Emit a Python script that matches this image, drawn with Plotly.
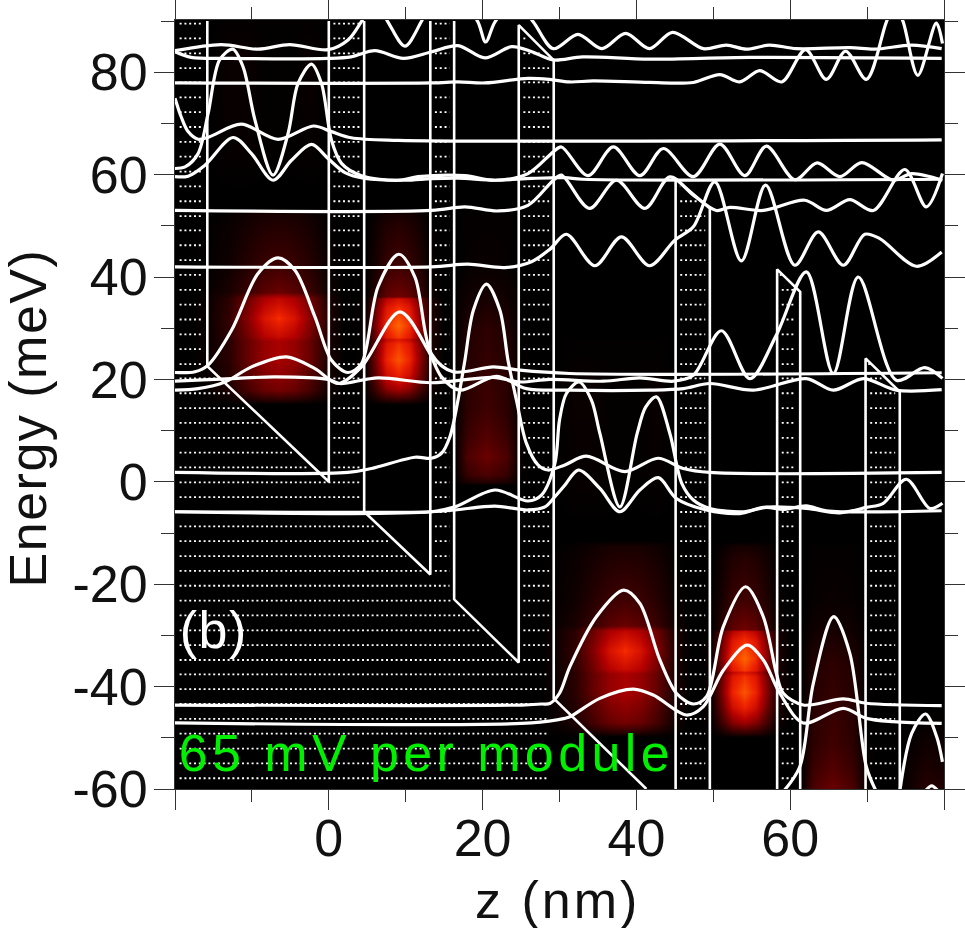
import plotly.graph_objects as go

# subbands: z in nm, energy in meV
wave_1_z = [-20,-14,-9.2,-5.1,-0.1,2.5,4.2,6,7.7,9.9,12,13.4,15.5,17.5,19.4,20.4,21.6,24.2,26.6,29.2,32.4,35.5,38.6,41.7,44.7,48.7,51.7,54.3,57.3,60.8,67.8,71,75.8,79.7]
wave_1_e = [84.2,85.4,84.5,85.4,84.4,86.3,89.8,94,89.8,85.1,89.8,94,96,94,89.8,85.9,89.8,94,89.8,84.6,87.4,84.6,87.6,84.6,87.8,84.6,85.3,84.5,85.3,84.6,84.8,84.5,85.3,84.6]
wave_2_z = [-20,-17.9,-12.7,-0.1,2.9,6,9.7,13.4,16.8,20.3,23.8,26.4,29.2,33,41.7,54.8,79.7]
wave_2_e = [84,82.9,82.7,82.7,83,84.2,82.7,84,85.2,82.8,85,84,82.4,83,82.55,82.9,82.7]
wave_3_z = [-20,13.4,16.8,20.3,25.9,28.7,31.3,34.4,41.7,47.4,50.85,53.45,56.05,58.9,62,64.7,67.2,69.9,72.5,73.6,74.7,76.6,79,79.8]
wave_3_e = [77.9,77.9,78.1,77.9,78.8,78.6,78.1,78.3,78,78,79.55,78.1,80.3,78.1,84.4,78.6,84.1,78.6,89.8,93.4,89.8,79.4,89.6,85.6]
wave_4_z = [-20,-19.2,-18.3,-17,-15.5,-11.4,-6.6,-2,0.35,2.9,9,79.7]
wave_4_e = [74.9,71.3,68.4,66.9,67.4,69.85,66.9,69.5,68.4,67.2,66.7,66.8]
wave_5_z = [-20,-18.7,-17,-15.7,-14.2,-12.5,-11.15,-9.6,-7.25,-5.3,-4,-2.25,-0.95,0.35,1.65,4.25,9,11.6,17.7,21.6,25.9,29.2,30.25,33.7,37,40.45,43.5,47.4,50.85,54.1,56.9,60.6,63.5,66.45,69.3,73.4,75.8,79.8]
wave_5_e = [61.2,61.5,64.1,71.9,82.4,84.5,81.05,70.65,59.9,68,77.8,81.6,77.8,66.7,62.2,59.8,58.9,59.6,59.8,58.9,60.2,64.45,65.4,59.8,65.4,59.8,65.1,59.6,65.95,59.8,65.55,59,62.3,59.6,62.35,58.9,60.2,58.9]
wave_6_z = [-20,-18.3,-16.1,-12.45,-10.05,-7.25,-4.85,-2.25,-0.1,2.1,4.7,9.9,13.35,16.8,21.6,26.35,30.7,33,79.7]
wave_6_e = [59.6,59.7,61.85,67.25,64.1,58.9,62.8,65.9,63.15,60.4,59.25,58.9,59.2,59.3,58.9,59.25,59.4,59.1,59.1]
wave_7_z = [-20,13.35,17.7,22,25.9,29.2,30.25,33.9,37.4,41.1,44.35,47.4,50.4,52.15,56.5,61.9,64.7,67.75,70.8,74.9,77.7,79.8]
wave_7_e = [53,53,53.7,52.9,54,58.9,59.9,53.4,58.9,53.4,59.55,56,53,53.6,53,55,53,55.1,53,61,53.7,60.2]
wave_8_z = [-20,13.35,18.1,22.9,26.35,28.74,30.9,34.6,38.05,41.7,45,47.4,50.2,53.65,56.8,60.6,63.65,66.9,69.7,71.65,76.4,79.7]
wave_8_e = [42,42,42.5,41.85,43,45.4,48.35,42.2,47.85,42.2,47.2,49.8,58.6,43.15,57.95,42.3,48.8,42.3,48.35,47.5,42.1,44.9]
wave_9_z = [-20,-17.4,-15.7,-12.65,-9.2,-6.6,-4.4,-1.8,0.35,2.5,4.25,6.4,9.1,11.2,13.35,16.15,21.4,24.85,31.35,79.7]
wave_9_e = [21.35,21.5,22.8,29.6,40.7,43.75,41.3,32.2,23.75,21.35,23.1,38.1,44.45,40,25,21.5,22.45,21.8,21.15,21.3]
wave_10_z = [-20,-12.65,-7,-0.1,1.4,6.4,13.35,21.4,24.85,28.74,35.7,40.45,44.8,47.4,51.05,54.75,58.2,62.1,65.6,68.85,73.8,77.5,79.8]
wave_10_e = [19.65,20.15,20.5,20,19.2,20.3,19.35,20.4,19.5,20,19.65,20.3,19.65,20.8,29.5,20.15,28.65,41,21.15,40,19.85,22.3,20.2]
wave_11_z = [-20,-17,-13.5,-10.05,-5.5,-1.8,1.2,4.25,9.25,12.9,14.65,17,21.8,25.7,31.35,41.7,46.1,49.55,55.2,62.1,65.6,69.5,73.8,79.7]
wave_11_e = [17.9,18.2,19.5,22.45,24.4,22.1,19.2,22.45,33.2,25.7,20.5,17.9,20.6,18.2,17.9,17.9,18.2,19.2,17.9,20.15,17.9,20.15,17.9,18]
wave_12_z = [-20,2.5,5.55,11.2,13.35,14.65,15.75,16.8,17.7,18.8,20.5,22.25,23.3,24.4,25.7,27.2,28.5,30.7,33.5,38.5,42.8,46.1,49.55,79.7]
wave_12_e = [1.83,1.83,2.6,4.8,4.6,5.55,8.8,15.96,23.75,33.5,38.6,33.5,23.75,15.95,7.5,3.3,2.3,3.3,5,2,4.6,2.6,1.83,1.83]
wave_13_z = [-20,13.35,16.4,21.6,25.9,27.65,29.4,30,30.9,32.55,34.15,35.25,37.85,40.1,41.2,42.6,44.35,45.9,47.4,49.55,53.9,56.9,59.1,62.1,64.7,79.7]
wave_13_e = [-5.85,-5.85,-4.9,-1.6,-3.75,-2.6,3.6,12.05,17.25,19.5,15.96,9.45,-4.9,9.45,14.6,16.6,9.45,-0.3,-3.55,-5.2,-5.85,-5,-5.4,-4.7,-5.65,-5.65]
wave_14_z = [-20,13.35,16.4,21.6,25.9,28.1,29.4,30.7,32.45,35.25,37.85,40.45,42.85,45.2,49.1,53.45,56.5,62.1,66.45,69.9,72.1,75.1,78.15,79.8]
wave_14_e = [-5.85,-5.85,-5.5,-4.75,-5.5,-4.9,-2.9,-0.65,2.3,-1.3,-5.85,-1.6,0.8,-3.25,-5.5,-6.2,-5,-5.2,-6.05,-5,-4.2,0.5,-5.2,-4.2]
wave_15_z = [-20,25.05,27.65,28.74,30,31.35,34.8,38.35,40.45,43.05,45.2,47.4,49.1,51.3,54.2,56.5,58.2,59.1,61.7,66.9,69.9,79.7]
wave_15_e = [-43.6,-43.6,-43.4,-43.3,-41.3,-36.1,-26.35,-21.15,-23.75,-34.8,-41.3,-43.4,-42,-28.3,-20.5,-26.35,-37.4,-41.3,-43.6,-42.4,-43.25,-43.7]
wave_16_z = [-20,26.35,30.7,31.35,35.25,39.6,42.2,46.5,48.7,51.3,54.4,56.5,58.65,61.7,66.9,69.9,73.4,79.7]
wave_16_e = [-47.1,-47.1,-46.2,-45.9,-42.3,-40.5,-41.65,-45.55,-43.9,-36.8,-31.9,-34.8,-41.3,-47.1,-44.25,-46.2,-46.85,-47.2]
wave_17_z = [59.1,61.25,63,65.65,67.75,69.9,71.2]
wave_17_e = [-60.5,-55.65,-39.4,-26.35,-33.5,-55.65,-60.5]
wave_18_z = [74.25,75.8,77.6,79.05,79.8]
wave_18_e = [-60.5,-49.15,-45.35,-49.8,-54.7]
wave_19_z = [77.5,78.4,79.3]
wave_19_e = [-60.5,-59.4,-60.5]

# conduction band edge
band_z = [-15.8,-15.8,0,0,None,4.6,4.6,13.2,13.2,None,16.3,16.3,24.7,24.7,29.25,29.25,41.3,None,45.1,45.1,49.55,49.55,None,58.3,58.3,61.3,61.3,None,69.8,69.8,74.25,74.25]
band_e = [90,22.6,0,90,None,90,-5.85,-18.1,90,None,90,-22.95,-35.3,89.2,82.35,-42.3,-60,None,-60,59.2,53.4,-60,None,-60,41.5,37.1,-60,None,-60,24.1,17.6,-60]

# barrier pieces: left z, right z, top at left, top at right
barriers = [(-20,-15.8,90,90),(-15.8,0,22.6,0),(0,4.6,90,90),(4.6,13.2,-5.85,-18.1),(13.2,16.3,90,90),
            (16.3,24.7,-22.95,-35.3),(24.7,29.25,89.2,82.35),(45.1,49.55,59.2,53.4),(58.3,61.3,41.5,37.1),(69.8,74.25,24.1,17.6)]
dot_rows = [89.5,86.6,83.7,80.8,78.0,75.1,72.2,69.3,66.4,63.5,60.6,57.7,54.8,51.9,49.1,46.2,43.3,40.4,37.5,34.6,31.7,28.8,25.9,23,20.2,17.3,
            14.4,11.5,8.6,5.7,2.8,-0.1,-3,-5.9,-8.7,-11.6,-14.5,-17.4,-20.3,-23.2,-26.1,-29,-31.9,-34.8,-37.6,-40.5,-43.4,-46.3,-49.2,-52.1,-55,-57.9]

# glow in the wells, the same levels repeat one module further on
glow_wide = [
    [0,0,0,0,0,0,0,0,0,0],
    [0,.01,.03,.07,.11,.12,.11,.07,.02,0],
    [0,.02,.09,.22,.32,.36,.32,.22,.05,0],
    [0,.03,.13,.32,.46,.52,.46,.32,.08,0],
    [0,.03,.13,.32,.46,.52,.46,.32,.08,0],
    [0,.03,.14,.36,.56,.64,.56,.36,.08,0],
    [0,.03,.16,.42,.7,.84,.7,.42,.09,0],
    [0,.03,.13,.34,.52,.6,.52,.34,.08,0],
    [0,.02,.08,.18,.28,.33,.28,.18,.05,0],
    [0,.01,.05,.12,.18,.2,.18,.12,.03,0],
    [0,.01,.03,.07,.1,.11,.1,.07,.01,0],
    [0,0,.02,.05,.07,.07,.07,.05,.01,0],
    [0,0,0,0,0,0,0,0,0,0],
    [0,0,0,0,0,0,0,0,0,0],
    [0,0,.02,.02,.01,.01,.01,.02,0,0],
    [0,0,.03,.03,.01,.01,.01,.03,0,0],
    [0,0,.01,.01,.01,.01,.01,.01,0,0],
]
wide_a_z = [-18,-15.8,-13,-10.5,-8.5,-6.5,-4.5,-2.5,0,2]
wide_a_e = [15.2,16,18,24,27.6,28.4,32,36,37,42,50,52.5,53.5,56,64,84,90]
wide_d_z = [27,29.2,32,34.5,36.5,38.5,40.5,42.5,45,47]
wide_d_e = [-49.8,-49,-47,-41,-37.4,-36.6,-33,-29,-28,-23,-15,-12.5,-11.5,-9,-1,19,25]

glow_narrow = [
    [0,0,0,0,0,0,0,0,0],
    [0,.01,.05,.12,.14,.12,.06,.01,0],
    [0,.02,.19,.41,.5,.41,.2,.05,0],
    [0,.03,.3,.66,.8,.66,.32,.09,0],
    [0,.04,.36,.8,.95,.8,.38,.1,0],
    [0,.03,.32,.72,.85,.72,.34,.09,0],
    [0,.03,.26,.6,.72,.6,.28,.08,0],
    [0,.03,.33,.74,.88,.74,.35,.09,0],
    [0,.04,.38,.84,1,.84,.4,.11,0],
    [0,.03,.32,.72,.85,.72,.34,.09,0],
    [0,.02,.25,.57,.68,.57,.27,.08,0],
    [0,.01,.13,.3,.35,.3,.15,.04,0],
    [0,.01,.07,.17,.2,.17,.09,.02,0],
    [0,0,.04,.1,.12,.1,.05,.01,0],
    [0,0,.02,.06,.07,.06,.03,.01,0],
    [0,0,0,0,0,0,0,0,0],
]
narrow_b_z = [3,4.7,6,7.5,9,10.5,12,13.2,15]
narrow_b_e = [15.2,16,18,21,24,27,27.9,28.3,30.5,34,35.8,36.3,42,50,52.5,53.5]
narrow_e_z = [48,49.7,51,52.5,54,55.5,57,58.2,60]
narrow_e_e = [-49.8,-49,-47,-44,-41,-38,-37.1,-36.7,-34.5,-31,-29.2,-28.7,-23,-15,-12.5,-11.5]

glow_centre = [
    [0,0,0,0,0,0,0],
    [0,.01,.07,.1,.07,.01,0],
    [0,.02,.17,.24,.17,.02,0],
    [0,.03,.24,.33,.24,.03,0],
    [0,.03,.18,.26,.18,.03,0],
    [0,.02,.14,.2,.14,.02,0],
    [0,.02,.12,.17,.12,.02,0],
    [0,.01,.1,.14,.1,.01,0],
    [0,.01,.05,.07,.05,.01,0],
    [0,0,.02,.03,.02,0,0],
    [0,0,.01,.01,.01,0,0],
    [0,0,0,0,0,0,0],
]
centre_c_z = [15.5,16.5,18,20.5,23,24.7,26]
centre_c_e = [-0.6,-0.1,1.5,5,9,14,22,30,36,42,53,53.5]
centre_f_z = [60.5,61.5,63,65.5,68,69.7,71]
centre_f_e = [-65.6,-65.1,-63.5,-60,-56,-51,-43,-35,-29,-23,-12,-11.5]

glow_last = [[0,.05,.12,.1],[0,.03,.08,.06],[0,.01,.02,.02],[0,0,0,0]]
last_z = [74,75.5,77.5,80]
last_e = [-60,-55,-48,-44]

hot = [[0,"#000000"],[0.3,"#600000"],[0.55,"#b40000"],[0.8,"#ee2200"],[1,"#ff6600"]]

z_ticks = [-20,0,20,40,60,80]
z_labels = ["","0","20","40","60",""]
e_ticks = [-60,-40,-20,0,20,40,60,80]
e_labels = ["-60","-40","-20","0","20","40","60","80"]

fig = go.Figure()

for gz, ge, levels in [(wide_a_z,wide_a_e,glow_wide),(wide_d_z,wide_d_e,glow_wide),
                       (narrow_b_z,narrow_b_e,glow_narrow),(narrow_e_z,narrow_e_e,glow_narrow),
                       (centre_c_z,centre_c_e,glow_centre),(centre_f_z,centre_f_e,glow_centre),
                       (last_z,last_e,glow_last)]:
    fig.add_trace(go.Heatmap(x=gz, y=ge, z=levels, zmin=0, zmax=1, zsmooth="best",
                             colorscale=hot, showscale=False, hoverinfo="skip"))

# dotted rows only where the row is inside a barrier
dots_z, dots_e = [], []
for row in dot_rows:
    spans = []
    for left, right, top_l, top_r in barriers:
        if row >= max(top_l, top_r):
            continue
        end = right
        if row > min(top_l, top_r):
            end = left + (top_l - row) / (top_l - top_r) * (right - left)
        if spans and spans[-1][1] == left:
            spans[-1][1] = end
        else:
            spans.append([left, end])
    for a, b in spans:
        dots_z += [a + 0.6, b - 0.6, None]
        dots_e += [row, row, None]

fig.add_trace(go.Scatter(x=dots_z, y=dots_e, mode="lines", hoverinfo="skip",
                         line=dict(color="white", width=1.8, dash="2px,2.8px")))

fig.add_trace(go.Scatter(x=band_z, y=band_e, mode="lines", hoverinfo="skip",
                         line=dict(color="white", width=2.6)))

waves = [(wave_1_z,wave_1_e),(wave_2_z,wave_2_e),(wave_3_z,wave_3_e),(wave_4_z,wave_4_e),(wave_5_z,wave_5_e),
         (wave_6_z,wave_6_e),(wave_7_z,wave_7_e),(wave_8_z,wave_8_e),(wave_9_z,wave_9_e),(wave_10_z,wave_10_e),
         (wave_11_z,wave_11_e),(wave_12_z,wave_12_e),(wave_13_z,wave_13_e),(wave_14_z,wave_14_e),(wave_15_z,wave_15_e),
         (wave_16_z,wave_16_e),(wave_17_z,wave_17_e),(wave_18_z,wave_18_e),(wave_19_z,wave_19_e)]
for wz, we in waves:
    fig.add_trace(go.Scatter(x=wz, y=we, mode="lines", hoverinfo="skip",
                             line=dict(color="white", width=3.2, shape="spline", smoothing=0.9)))

ink = "#111111"
fig.update_xaxes(range=[-20,80], automargin=False, showgrid=False, zeroline=False, showline=True, linecolor="#333333", linewidth=1, mirror="ticks",
                 tickvals=z_ticks, ticktext=z_labels, ticks="outside", ticklen=20, tickcolor="#333333", tickwidth=1.2, ticklabelstandoff=-16,
                 minor=dict(tickvals=[-10,10,30,50,70], ticks="outside", ticklen=12, tickcolor="#333333", tickwidth=1.2),
                 tickfont=dict(family="Liberation Sans", size=52, color=ink))
fig.update_yaxes(range=[-60,90.2], automargin=False, showgrid=False, zeroline=False, showline=True, linecolor="#333333", linewidth=1, mirror="ticks",
                 tickvals=e_ticks, ticktext=e_labels, ticks="outside", ticklen=20, tickcolor="#333333", tickwidth=1.2, ticklabelstandoff=-4,
                 minor=dict(tickvals=[-50,-30,-10,10,30,50,70,90], ticks="outside", ticklen=13, tickcolor="#333333", tickwidth=1.2),
                 tickfont=dict(family="Liberation Sans", size=52, color=ink))

fig.add_annotation(text="Energy (meV)", textangle=-90, xref="paper", yref="paper", x=-0.191, y=0.482, xanchor="center", yanchor="middle",
                   showarrow=False, font=dict(family="Liberation Sans", size=52, color=ink))
fig.add_annotation(text="z (nm)", xref="paper", yref="paper", x=0.498, y=-0.144, xanchor="center", yanchor="middle",
                   showarrow=False, font=dict(family="Liberation Sans", size=52, color=ink))
fig.add_annotation(text="(b)", xref="x", yref="y", x=-14.9, y=-29.0, xanchor="center", yanchor="middle",
                   showarrow=False, font=dict(family="Liberation Sans", size=52, color="white"))
fig.add_annotation(text="65 mV per module", xref="x", yref="y", x=12.7, y=-52.9, xanchor="center", yanchor="middle",
                   showarrow=False, font=dict(family="Liberation Sans", size=52, color="#00f000"))

fig.update_layout(width=965, height=928, margin=dict(l=175, r=21, t=20, b=139), autosize=False,
                  plot_bgcolor="black", paper_bgcolor="white", showlegend=False)

# no page margin, and the original text is set a little wider than the font's natural spacing
page_fix = """
document.body.style.margin = '0';
document.querySelectorAll('.annotation-text').forEach(function (t) {
  var txt = t.textContent;
  t.style.letterSpacing = txt.indexOf('module') >= 0 ? '4.4px' : (txt.indexOf('nm') >= 0 ? '3px' : '1.5px');
});
"""
fig.write_html("out.html", post_script=page_fix, config={"displayModeBar": False})
